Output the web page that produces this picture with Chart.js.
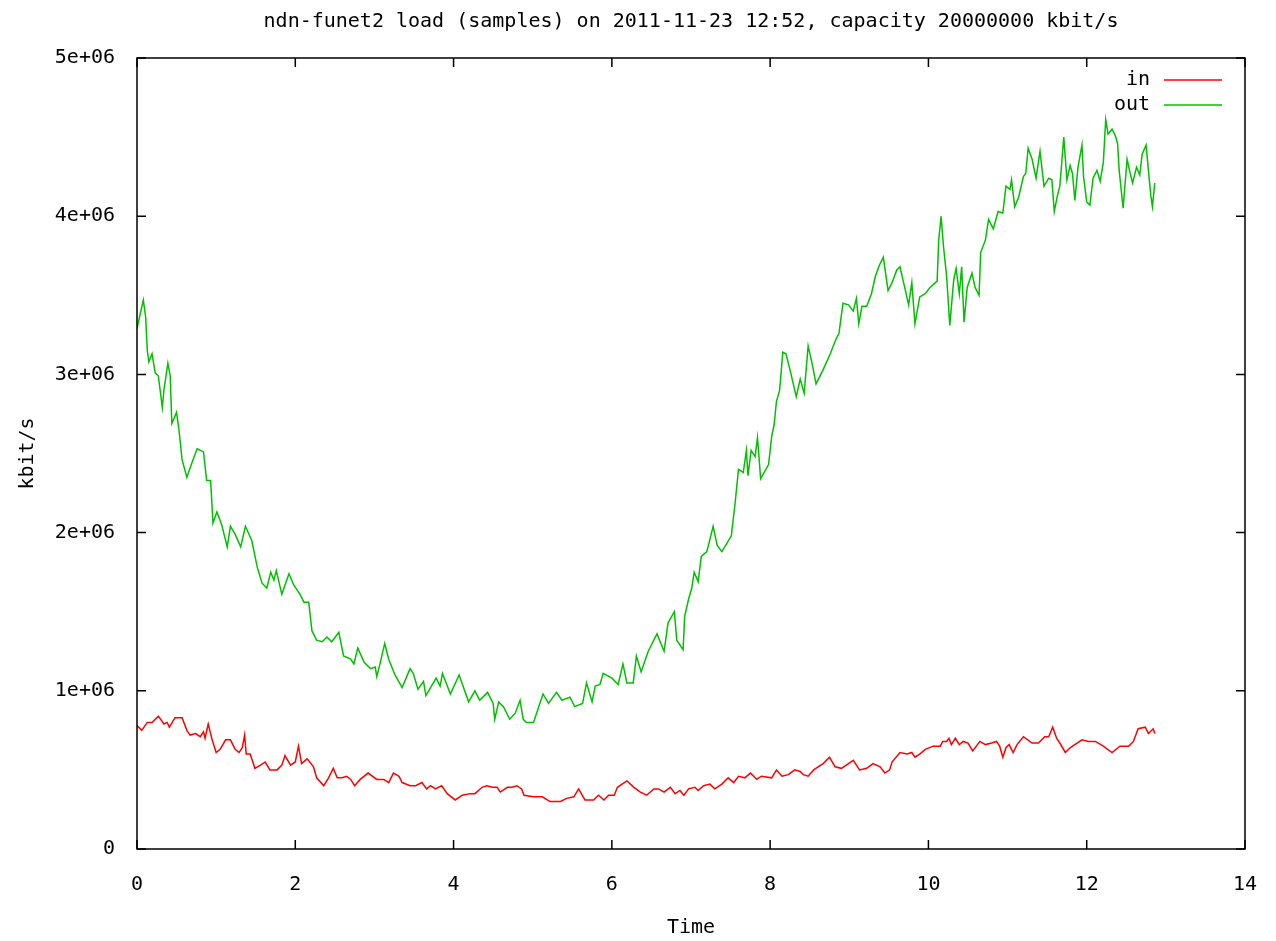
<!DOCTYPE html>
<html>
<head>
<meta charset="utf-8">
<script src="https://cdn.jsdelivr.net/npm/chart.js@4/dist/chart.umd.min.js"></script>
<style>
  html, body { margin: 0; padding: 0; background: #fff; }
  #wrap { width: 1276px; height: 941px; }
</style>
</head>
<body>
<div id="wrap"><canvas id="load"></canvas></div>
<script>
const chartTitle = 'ndn-funet2 load (samples) on 2011-11-23 12:52, capacity 20000000 kbit/s';
const seriesNames = ['in', 'out'];
const xTicks = [0, 2, 4, 6, 8, 10, 12, 14];
const yTicks = [0, 1e6, 2e6, 3e6, 4e6, 5e6];

// "in" samples: time (h) and kbit/s
const inTime = [0.00,0.06,0.13,0.19,0.27,0.34,0.38,0.41,0.48,0.57,0.63,0.67,0.74,0.80,0.84,0.86,0.90,0.95,1.00,1.05,
  1.12,1.18,1.24,1.29,1.33,1.36,1.38,1.43,1.49,1.56,1.62,1.68,1.77,1.83,1.87,1.94,2.00,2.04,2.08,2.15,
  2.23,2.27,2.36,2.42,2.48,2.53,2.59,2.65,2.70,2.75,2.82,2.92,3.03,3.12,3.18,3.24,3.31,3.35,3.45,3.52,
  3.60,3.66,3.71,3.77,3.85,3.92,4.02,4.11,4.21,4.27,4.36,4.42,4.49,4.55,4.59,4.68,4.74,4.80,4.86,4.89,
  5.01,5.12,5.22,5.35,5.43,5.52,5.58,5.66,5.77,5.83,5.90,5.96,6.03,6.07,6.19,6.28,6.36,6.44,6.53,6.59,
  6.66,6.74,6.80,6.86,6.91,6.97,7.05,7.09,7.16,7.24,7.30,7.39,7.47,7.54,7.60,7.68,7.75,7.83,7.89,8.02,
  8.08,8.15,8.23,8.31,8.38,8.42,8.48,8.55,8.61,8.67,8.75,8.82,8.90,8.99,9.05,9.13,9.22,9.30,9.39,9.45,
  9.51,9.54,9.64,9.73,9.79,9.83,9.89,9.96,10.06,10.15,10.18,10.23,10.26,10.29,10.34,10.39,10.44,10.50,10.56,10.65,
  10.72,10.80,10.86,10.90,10.94,10.98,11.02,11.07,11.12,11.20,11.31,11.39,11.47,11.52,11.57,11.62,11.66,11.73,11.79,11.85,
  11.94,12.02,12.11,12.21,12.32,12.42,12.53,12.59,12.65,12.74,12.78,12.84,12.86];
const inLoad = [0.78,0.75,0.80,0.80,0.84,0.79,0.80,0.77,0.83,0.83,0.75,0.72,0.73,0.71,0.74,0.70,0.79,0.69,0.61,0.63,
  0.69,0.69,0.63,0.61,0.64,0.72,0.60,0.60,0.51,0.53,0.55,0.50,0.50,0.53,0.59,0.53,0.55,0.65,0.54,0.57,
  0.52,0.45,0.40,0.45,0.51,0.45,0.45,0.46,0.44,0.40,0.44,0.48,0.44,0.44,0.42,0.48,0.46,0.42,0.40,0.40,
  0.42,0.38,0.40,0.38,0.40,0.35,0.31,0.34,0.35,0.35,0.39,0.40,0.39,0.39,0.36,0.39,0.39,0.40,0.38,0.34,
  0.33,0.33,0.30,0.30,0.32,0.33,0.38,0.31,0.31,0.34,0.31,0.34,0.34,0.39,0.43,0.39,0.36,0.34,0.38,0.38,
  0.36,0.39,0.35,0.37,0.34,0.38,0.39,0.37,0.40,0.41,0.38,0.41,0.45,0.42,0.46,0.45,0.48,0.44,0.46,0.45,
  0.50,0.46,0.47,0.50,0.49,0.47,0.46,0.50,0.52,0.54,0.58,0.52,0.51,0.54,0.56,0.50,0.51,0.54,0.52,0.48,
  0.50,0.55,0.61,0.60,0.61,0.58,0.60,0.63,0.65,0.65,0.68,0.68,0.70,0.66,0.70,0.66,0.68,0.67,0.62,0.68,
  0.66,0.67,0.68,0.65,0.58,0.64,0.66,0.61,0.66,0.71,0.67,0.67,0.71,0.71,0.77,0.70,0.67,0.61,0.64,0.66,
  0.69,0.68,0.68,0.65,0.61,0.65,0.65,0.68,0.76,0.77,0.73,0.76,0.73].map(v => v * 1e6);

// "out" samples: time (h) and kbit/s
const outTime = [0.00,0.08,0.11,0.13,0.15,0.19,0.23,0.27,0.32,0.34,0.39,0.42,0.44,0.50,0.53,0.57,0.63,0.70,0.76,0.84,
  0.88,0.93,0.96,1.01,1.07,1.14,1.18,1.24,1.31,1.37,1.45,1.52,1.58,1.64,1.69,1.73,1.76,1.83,1.92,1.98,
  2.06,2.11,2.17,2.21,2.27,2.34,2.40,2.46,2.55,2.61,2.70,2.74,2.79,2.87,2.95,3.01,3.03,3.07,3.13,3.18,
  3.26,3.35,3.45,3.49,3.55,3.62,3.65,3.72,3.78,3.83,3.86,3.96,4.07,4.19,4.27,4.33,4.43,4.50,4.52,4.57,
  4.63,4.71,4.78,4.84,4.88,4.92,5.01,5.05,5.13,5.20,5.30,5.37,5.47,5.53,5.63,5.68,5.75,5.79,5.85,5.89,
  6.00,6.08,6.14,6.19,6.27,6.31,6.37,6.46,6.57,6.66,6.71,6.79,6.82,6.90,6.92,6.97,7.01,7.04,7.09,7.13,
  7.20,7.28,7.33,7.39,7.51,7.56,7.60,7.66,7.70,7.72,7.76,7.81,7.84,7.88,7.98,8.02,8.05,8.08,8.12,8.16,
  8.20,8.26,8.33,8.38,8.43,8.48,8.53,8.58,8.67,8.76,8.83,8.87,8.92,8.99,9.05,9.09,9.12,9.16,9.22,9.28,
  9.33,9.38,9.43,9.49,9.54,9.60,9.64,9.70,9.75,9.79,9.83,9.89,9.96,10.02,10.11,10.13,10.16,10.19,10.23,10.27,
  10.32,10.35,10.39,10.42,10.45,10.49,10.55,10.59,10.64,10.66,10.72,10.76,10.82,10.88,10.94,10.98,11.03,11.05,11.09,11.14,
  11.20,11.23,11.26,11.31,11.36,11.41,11.46,11.52,11.56,11.59,11.63,11.66,11.68,11.71,11.75,11.79,11.82,11.85,11.89,11.94,
  11.96,12.00,12.04,12.08,12.13,12.17,12.21,12.24,12.27,12.32,12.36,12.39,12.41,12.46,12.51,12.55,12.58,12.63,12.67,12.70,
  12.75,12.78,12.81,12.83,12.86];
const outLoad = [3.29,3.47,3.36,3.15,3.08,3.13,3.01,2.99,2.79,2.90,3.07,2.99,2.69,2.76,2.65,2.46,2.35,2.45,2.53,2.51,
  2.33,2.33,2.06,2.13,2.05,1.91,2.04,1.99,1.91,2.04,1.95,1.78,1.68,1.65,1.75,1.70,1.76,1.61,1.74,1.67,
  1.61,1.56,1.56,1.38,1.32,1.31,1.34,1.31,1.37,1.22,1.20,1.17,1.27,1.18,1.14,1.15,1.09,1.17,1.30,1.20,
  1.10,1.02,1.14,1.11,1.01,1.06,0.97,1.03,1.08,1.03,1.11,0.98,1.10,0.93,1.00,0.94,0.99,0.92,0.82,0.93,
  0.90,0.82,0.86,0.94,0.82,0.80,0.80,0.86,0.98,0.92,0.99,0.94,0.96,0.90,0.92,1.05,0.93,1.03,1.04,1.11,
  1.08,1.04,1.17,1.05,1.05,1.22,1.12,1.25,1.36,1.25,1.43,1.50,1.32,1.26,1.47,1.58,1.65,1.75,1.69,1.85,
  1.88,2.04,1.92,1.88,1.98,2.20,2.40,2.38,2.52,2.36,2.52,2.48,2.60,2.34,2.43,2.61,2.68,2.83,2.90,3.14,
  3.13,3.01,2.86,2.97,2.88,3.18,3.07,2.94,3.03,3.13,3.22,3.26,3.45,3.44,3.40,3.48,3.32,3.43,3.43,3.51,
  3.62,3.69,3.74,3.53,3.58,3.66,3.68,3.55,3.44,3.58,3.32,3.49,3.51,3.55,3.59,3.85,4.00,3.81,3.62,3.31,
  3.60,3.67,3.51,3.68,3.33,3.55,3.64,3.55,3.50,3.77,3.85,3.98,3.92,4.03,4.02,4.19,4.17,4.23,4.06,4.12,
  4.25,4.27,4.43,4.36,4.24,4.41,4.19,4.24,4.23,4.03,4.13,4.19,4.31,4.50,4.23,4.32,4.27,4.10,4.31,4.45,
  4.25,4.09,4.07,4.24,4.29,4.22,4.34,4.61,4.52,4.55,4.51,4.46,4.29,4.05,4.36,4.27,4.21,4.31,4.26,4.39,
  4.45,4.29,4.13,4.06,4.21].map(v => v * 1e6);

const monoFont = 'DejaVu Sans Mono';
const textSize = 20;

// gnuplot style frame: border on all sides with inward ticks, plus the key
const framePlugin = {
  id: 'frame',
  afterDatasetsDraw(chart) {
    const { ctx, chartArea: a, scales } = chart;
    const tl = 9;
    ctx.save();
    ctx.strokeStyle = '#000';
    ctx.lineWidth = 1.5;
    ctx.strokeRect(a.left, a.top, a.right - a.left, a.bottom - a.top);
    ctx.beginPath();
    scales.x.ticks.forEach(t => {
      const px = scales.x.getPixelForValue(t.value);
      ctx.moveTo(px, a.bottom); ctx.lineTo(px, a.bottom - tl);
      ctx.moveTo(px, a.top); ctx.lineTo(px, a.top + tl);
    });
    scales.y.ticks.forEach(t => {
      const py = scales.y.getPixelForValue(t.value);
      ctx.moveTo(a.left, py); ctx.lineTo(a.left + tl, py);
      ctx.moveTo(a.right, py); ctx.lineTo(a.right - tl, py);
    });
    ctx.stroke();

    ctx.font = textSize + 'px "' + monoFont + '"';
    ctx.textAlign = 'right';
    ctx.textBaseline = 'middle';
    chart.data.datasets.forEach((ds, i) => {
      const y = a.top + 22 + i * 25;
      ctx.fillStyle = '#000';
      ctx.fillText(ds.label, a.right - 95, y);
      ctx.strokeStyle = ds.borderColor;
      ctx.lineWidth = 1.5;
      ctx.beginPath();
      ctx.moveTo(a.right - 81, y);
      ctx.lineTo(a.right - 23, y);
      ctx.stroke();
    });
    ctx.restore();
  }
};

const toPoints = (xs, ys) => xs.map((x, i) => ({ x: x, y: ys[i] }));

new Chart(document.getElementById('load'), {
  type: 'line',
  data: {
    datasets: [
      { label: seriesNames[0], data: toPoints(inTime, inLoad), borderColor: '#ff0000', borderWidth: 1.5, pointRadius: 0, tension: 0 },
      { label: seriesNames[1], data: toPoints(outTime, outLoad), borderColor: '#00c000', borderWidth: 1.5, pointRadius: 0, tension: 0 }
    ]
  },
  options: {
    responsive: true,
    maintainAspectRatio: false,
    animation: false,
    layout: { padding: { left: 0, right: 31, top: 0, bottom: 0 } },
    plugins: {
      legend: { display: false },
      tooltip: { enabled: false },
      title: { display: false }
    },
    scales: {
      x: {
        type: 'linear',
        min: 0,
        max: 14,
        afterFit(scale) { scale.height = 92; },
        afterBuildTicks(scale) { scale.ticks = xTicks.map(v => ({ value: v })); },
        grid: { display: false },
        border: { display: false },
        ticks: { color: '#000', padding: 16, font: { family: monoFont, size: textSize }, maxRotation: 0 },
        title: {
          display: true,
          text: 'Time',
          color: '#000',
          font: { family: monoFont, size: textSize },
          padding: { top: 0, bottom: 1 }
        }
      },
      // top axis only carries the plot title, centred over the plot area
      top: {
        type: 'linear',
        position: 'top',
        min: 0,
        max: 14,
        afterFit(scale) { scale.height = 58; },
        grid: { display: false },
        border: { display: false },
        ticks: { display: false },
        title: {
          display: true,
          text: chartTitle,
          color: '#000',
          font: { family: monoFont, size: textSize },
          padding: { top: 9.5, bottom: 0 }
        }
      },
      y: {
        min: 0,
        max: 5e6,
        afterFit(scale) { scale.width = 137; },
        afterBuildTicks(scale) { scale.ticks = yTicks.map(v => ({ value: v })); },
        grid: { display: false },
        border: { display: false },
        ticks: {
          color: '#000',
          padding: 14,
          font: { family: monoFont, size: textSize },
          callback: v => v === 0 ? '0' : (v / 1e6) + 'e+06'
        },
        title: {
          display: true,
          text: 'kbit/s',
          color: '#000',
          font: { family: monoFont, size: textSize },
          padding: { top: 16, bottom: 0 }
        }
      }
    }
  },
  plugins: [framePlugin]
});
</script>
</body>
</html>
